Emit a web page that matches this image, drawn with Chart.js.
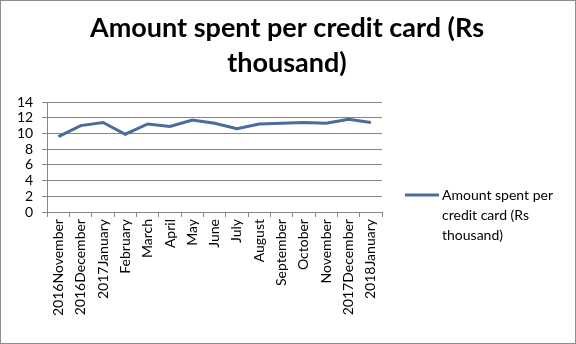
<!DOCTYPE html>
<html>
<head>
<meta charset="utf-8">
<script src="https://cdn.jsdelivr.net/npm/chart.js@4"></script>
<style>
  html, body { margin: 0; padding: 0; background: #fff; }
  #wrap { width: 574px; height: 342px; border: 1px solid #8c8c8c; }
</style>
</head>
<body>
<div id="wrap"><canvas id="myChart" width="574" height="342"></canvas></div>
<script>
const meses = [
  "2016November", "2016December", "2017January", "February", "March",
  "April", "May", "June", "July", "August", "September", "October",
  "November", "2017December", "2018January"
];
const gastoPorTarjeta = [9.6, 11.0, 11.4, 9.9, 11.2, 10.9, 11.7, 11.3, 10.6, 11.2, 11.3, 11.4, 11.3, 11.8, 11.4];
const ticksY = [0, 2, 4, 6, 8, 10, 12, 14];
const tituloGrafico = ["Amount spent per credit card (Rs", "thousand)"];
const etiquetaSerie = "Amount spent per credit card (Rs thousand)";
const leyendaLineas = ["Amount spent per", "credit card (Rs", "thousand)"];

const fuente = "Lato, 'Open Sans', sans-serif";
const colorLinea = "#4a6c9b";

// título centrado sobre todo el lienzo (no solo sobre el área del gráfico)
const tituloCentrado = {
  id: "tituloCentrado",
  afterDraw(chart) {
    const ctx = chart.ctx;
    ctx.save();
    ctx.fillStyle = "#000";
    ctx.font = "bold 27px " + fuente;
    ctx.textAlign = "center";
    ctx.textBaseline = "alphabetic";
    tituloGrafico.forEach((t, i) => ctx.fillText(t, 286, 36 + i * 35));
    ctx.restore();
  }
};

// leyenda a la derecha con texto en varias líneas
const leyendaDerecha = {
  id: "leyendaDerecha",
  afterDraw(chart) {
    const ctx = chart.ctx;
    const y0 = 194;
    ctx.save();
    ctx.strokeStyle = colorLinea;
    ctx.lineWidth = 3;
    ctx.beginPath();
    ctx.moveTo(404, y0);
    ctx.lineTo(438, y0);
    ctx.stroke();
    ctx.fillStyle = "#000";
    ctx.font = "14px " + fuente;
    ctx.textBaseline = "middle";
    leyendaLineas.forEach((t, i) => ctx.fillText(t, 441, y0 + i * 20));
    ctx.restore();
  }
};

const data = {
  labels: meses,
  datasets: [
    {
      label: etiquetaSerie,
      data: gastoPorTarjeta,
      borderColor: colorLinea,
      borderWidth: 3,
      pointRadius: 0,
      tension: 0,
      fill: false,
    },
  ],
};

const config = {
  type: "line",
  data,
  plugins: [tituloCentrado, leyendaDerecha],
  options: {
    responsive: false,
    animation: false,
    layout: {
      padding: { left: 7, right: 193, top: 101, bottom: 25 },
    },
    scales: {
      x: {
        offset: true,
        grid: {
          display: true,
          drawOnChartArea: false,
          drawTicks: true,
          tickLength: 5,
          color: "#868686",
          offset: true,
        },
        border: { color: "#868686" },
        ticks: {
          color: "#000",
          minRotation: 90,
          maxRotation: 90,
          autoSkip: false,
          padding: 2,
          font: { family: fuente, size: 14 },
        },
      },
      y: {
        min: 0,
        max: 14,
        afterBuildTicks: (axis) => {
          axis.ticks = ticksY.map((v) => ({ value: v }));
        },
        grid: {
          color: "#868686",
          tickLength: 5,
        },
        border: { color: "#868686" },
        ticks: {
          color: "#000",
          autoSkip: false,
          padding: 9,
          font: { family: fuente, size: 14 },
        },
      },
    },
    plugins: {
      legend: { display: false },
      tooltip: { enabled: false },
      title: { display: false },
    },
  },
};

new Chart(document.getElementById("myChart"), config);
</script>
</body>
</html>
